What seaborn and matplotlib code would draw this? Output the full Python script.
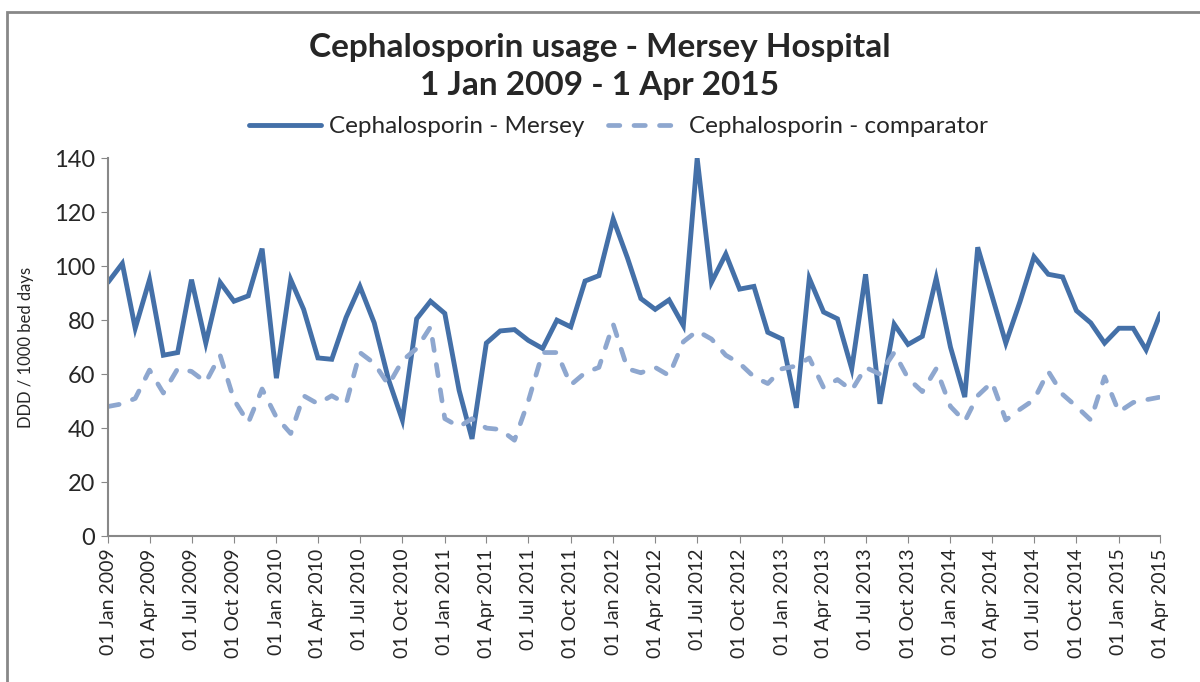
import pandas as pd
import matplotlib.pyplot as plt
import matplotlib.dates as mdates
from matplotlib.patches import Rectangle
import seaborn as sns

# monthly values, Jan 2009 - Apr 2015 (DDD / 1000 bed days)
months = pd.date_range("2009-01-01", "2015-04-01", freq="MS")

mersey = [
    94, 101, 77, 95, 67, 68, 95, 71.5, 94, 87, 89, 106.5,
    58.5, 95, 84, 66, 65.5, 81, 92.5, 79, 58, 43, 80.5, 87,
    82.5, 54, 36, 71.5, 76, 76.5, 72.5, 69.5, 80, 77.5, 94.5, 96.5,
    117.5, 103, 88, 84, 87.5, 78, 140, 94, 104.5, 91.5, 92.5, 75.5,
    73, 47.5, 95.5, 83, 80.5, 62, 97, 49, 78.5, 71, 74, 95.5,
    70, 51.5, 107, 89, 71.5, 87, 103.5, 97, 96, 83.5, 79, 71.5,
    77, 77, 69, 82.5,
]

comparator = [
    48, 49, 51, 61.5, 53, 62, 61, 57, 67, 50.5, 42, 54.5,
    44, 38, 52, 49, 52, 49, 68, 64, 56, 65, 69.5, 77.5,
    43.5, 40.5, 43.5, 40, 39.5, 35.5, 50, 68, 68, 56, 60.5, 62.5,
    78.5, 62, 60.5, 62.5, 59.5, 72, 76, 73, 67, 64, 59, 56.5,
    62, 63, 66, 55, 58, 54, 62.5, 60, 68, 58.5, 53.5, 62,
    48, 42.5, 52, 57, 43, 47, 50.5, 61, 52.5, 48, 43, 59,
    46, 49.5, 50.5, 51.5,
]

series_names = ["Cephalosporin - Mersey", "Cephalosporin - comparator"]

sns.set_style("white")
plt.rcParams["font.family"] = ["Lato", "DejaVu Sans"]

fig = plt.figure(figsize=(12, 6.82), dpi=100)
ax = fig.add_axes([0.09, 0.214, 0.877, 0.554])

sns.lineplot(x=months, y=mersey, ax=ax, color="#4470A8", linewidth=3.5,
             label=series_names[0], solid_joinstyle="miter")
sns.lineplot(x=months, y=comparator, ax=ax, color="#8EA7CF", linewidth=3.4,
             linestyle=(0, (2.4, 3.0)), dash_capstyle="round",
             label=series_names[1])

ax.set_xlim(months[0], months[-1])
ax.set_ylim(0, 140)
ax.set_yticks(range(0, 141, 20))
ax.tick_params(axis="y", labelsize=17, length=5, color="#888888", direction="out", pad=4)

ax.xaxis.set_major_locator(mdates.MonthLocator(bymonth=[1, 4, 7, 10]))
ax.xaxis.set_major_formatter(mdates.DateFormatter("%d %b %Y"))
ax.tick_params(axis="x", labelsize=14, length=5, color="#888888", direction="out",
               rotation=90, pad=4)
ax.tick_params(left=True, bottom=True)

for side in ["top", "right"]:
    ax.spines[side].set_visible(False)
for side in ["left", "bottom"]:
    ax.spines[side].set_color("#888888")
    ax.spines[side].set_linewidth(1.5)

ax.set_xlabel("")
ax.set_ylabel("DDD / 1000 bed days", fontsize=12)
ax.yaxis.set_label_coords(-0.07, 0.5)

fig.text(0.5, 0.931, "Cephalosporin usage - Mersey Hospital", ha="center", va="center",
         fontsize=24, fontweight="bold")
fig.text(0.5, 0.875, "1 Jan 2009 - 1 Apr 2015", ha="center", va="center",
         fontsize=24, fontweight="bold")

handles, labels = ax.get_legend_handles_labels()
ax.get_legend().remove()
fig.legend(handles, labels, loc="center", bbox_to_anchor=(0.515, 0.814),
           bbox_transform=fig.transFigure, ncol=2, frameon=False,
           fontsize=17.5, handlelength=3.0, handletextpad=0.3, columnspacing=1.0)

# outer chart border
fig.patches.append(Rectangle((0.006, -0.05), 1.1, 1.032, transform=fig.transFigure,
                             fill=False, edgecolor="#888888", linewidth=2, clip_on=False))

fig.savefig("out.png", dpi=100)
